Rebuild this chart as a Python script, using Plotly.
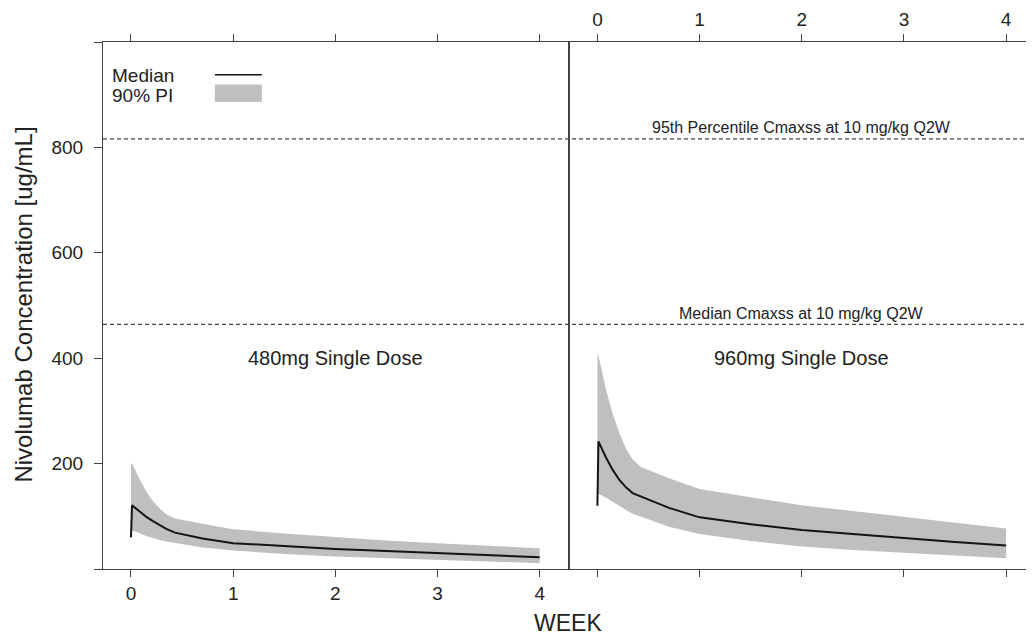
import plotly.graph_objects as go

# ---- data (weeks, ug/mL) ----
weeks = [0, 0.01, 0.085, 0.15, 0.215, 0.28, 0.345, 0.43, 0.7, 1, 1.5, 2, 2.5, 3, 3.5, 4]

median_480 = [60, 121, 109, 99, 91, 83.5, 76, 69, 58, 49, 43, 38, 34, 30, 26, 22.5]
upper_480 = [200, 200, 170, 147, 129, 115, 104, 96, 86, 75.5, 67.5, 60.2, 54, 49, 44, 39.4]
lower_480 = [74, 74, 68, 62.7, 58.5, 55, 52, 49, 41, 35, 28.5, 23.7, 20.5, 17.4, 14, 11.1]

median_960 = [120, 242, 211, 188, 169, 155, 144, 137, 116, 98, 85, 74, 66, 58, 51, 44.5]
upper_960 = [405, 405, 340, 294, 258, 228, 208, 193, 172, 152, 136, 121, 110, 99, 88, 77]
lower_960 = [143, 143, 135, 128, 120, 112, 105, 99, 80, 66.5, 53, 42.5, 36, 31, 25.5, 20.6]

ref_values = [816, 464]
ref_labels = ["95th Percentile Cmaxss at 10 mg/kg Q2W", "Median Cmaxss at 10 mg/kg Q2W"]
panel_labels = ["480mg Single Dose", "960mg Single Dose"]
x_ticks = [0, 1, 2, 3, 4]
y_ticks = [0, 200, 400, 600, 800, 1000]
y_ticktext = ["", "200", "400", "600", "800", ""]

FONT = "Liberation Sans, Arial, Helvetica, sans-serif"
TXT = "#222222"
AXC = "#444444"
BAND = "#bfbfbf"
LINE = "#141414"

OFF = 8  # page body margin
W, H = 1034 - OFF, 637 - OFF
ML, MR, MT, MB = 103 - OFF, 1, 39 - OFF, 68
PW = W - ML - MR
PH = H - MT - MB


def px(x):
    # x given in screenshot pixels
    return (x - OFF - ML) / PW


def py(y):
    # y given in screenshot pixels
    return (H - MB - (y - OFF)) / PH


fig = go.Figure()

panels = [
    (median_480, upper_480, lower_480, "x", "y"),
    (median_960, upper_960, lower_960, "x2", "y2"),
]
for med, up, lo, xa, ya in panels:
    fig.add_trace(go.Scatter(
        x=weeks + weeks[::-1], y=up + lo[::-1], fill="toself",
        fillcolor=BAND, line=dict(width=0), mode="lines",
        hoverinfo="skip", showlegend=False, xaxis=xa, yaxis=ya))
    fig.add_trace(go.Scatter(
        x=weeks, y=med, mode="lines", line=dict(color=LINE, width=2),
        showlegend=False, xaxis=xa, yaxis=ya))

# reference dashed lines across both panels
for v in ref_values:
    fig.add_shape(type="line", xref="paper", x0=0, x1=1, yref="y", y0=v, y1=v,
                  line=dict(color="#444444", width=1.2, dash="4px,3px"))

# reference labels (right panel)
fig.add_annotation(x=2, y=ref_values[0] + 22, xref="x2", yref="y2", text=ref_labels[0],
                   showarrow=False, font=dict(family=FONT, size=16, color=TXT),
                   xanchor="center", yanchor="middle")
fig.add_annotation(x=2, y=ref_values[1] + 20, xref="x2", yref="y2", text=ref_labels[1],
                   showarrow=False, font=dict(family=FONT, size=16, color=TXT),
                   xanchor="center", yanchor="middle")

# panel labels
for lab, xa, ya in [(panel_labels[0], "x", "y"), (panel_labels[1], "x2", "y2")]:
    fig.add_annotation(x=2, y=400, xref=xa, yref=ya, text=lab, showarrow=False,
                       font=dict(family=FONT, size=20, color=TXT),
                       xanchor="center", yanchor="middle")

# legend (lattice key style)
fig.add_annotation(x=px(110), y=py(73), xref="paper", yref="paper", text="Median",
                   showarrow=False, font=dict(family=FONT, size=19, color=TXT),
                   xanchor="left", yanchor="middle")
fig.add_annotation(x=px(110), y=py(92.5), xref="paper", yref="paper", text="90% PI",
                   showarrow=False, font=dict(family=FONT, size=19, color=TXT),
                   xanchor="left", yanchor="middle")
fig.add_shape(type="line", xref="paper", yref="paper", x0=px(215), x1=px(262),
              y0=py(72), y1=py(72), line=dict(color=LINE, width=1.5))
fig.add_shape(type="rect", xref="paper", yref="paper", x0=px(215), x1=px(262),
              y0=py(99.3), y1=py(81.7), line=dict(width=0), fillcolor=BAND)

# axis titles
fig.add_annotation(x=px(569), y=py(623.4), xref="paper", yref="paper", text="WEEK",
                   showarrow=False, font=dict(family=FONT, size=23, color=TXT),
                   xanchor="center", yanchor="middle")
fig.add_annotation(x=px(22.5), y=py(303.5), xref="paper", yref="paper",
                   text="Nivolumab Concentration [ug/mL]", textangle=-90,
                   showarrow=False, font=dict(family=FONT, size=24, color=TXT),
                   xanchor="center", yanchor="middle")

split = (569.3 - OFF - ML) / PW
common_x = dict(showgrid=False, zeroline=False, showline=True, linecolor=AXC,
                linewidth=1, ticks="outside", ticklen=7, tickcolor=AXC,
                tickvals=x_ticks, mirror="ticks",
                tickfont=dict(family=FONT, size=19, color=TXT))

fig.update_layout(
    width=W, height=H,
    margin=dict(l=ML, r=MR, t=MT, b=MB),
    paper_bgcolor="white", plot_bgcolor="white",
    showlegend=False,
    xaxis=dict(domain=[0, split], range=[-0.274, 4.285], side="bottom",
               anchor="y", **common_x),
    xaxis2=dict(domain=[split, 1], range=[-0.28, 4.253], side="top",
                anchor="y2", **common_x),
    yaxis=dict(range=[0, 1000], tickvals=y_ticks, ticktext=y_ticktext,
               showgrid=False, zeroline=False, showline=True, linecolor=AXC,
               linewidth=1, mirror=True, ticks="outside", ticklen=8, tickcolor=AXC,
               tickfont=dict(family=FONT, size=19, color=TXT), anchor="x",
               ticklabelstandoff=7),
    yaxis2=dict(range=[0, 1000], matches="y", showgrid=False, zeroline=False,
                showline=True, linecolor=AXC, linewidth=1, mirror=True,
                showticklabels=False, ticks="", anchor="x2"),
)

fig.write_html("out.html")
